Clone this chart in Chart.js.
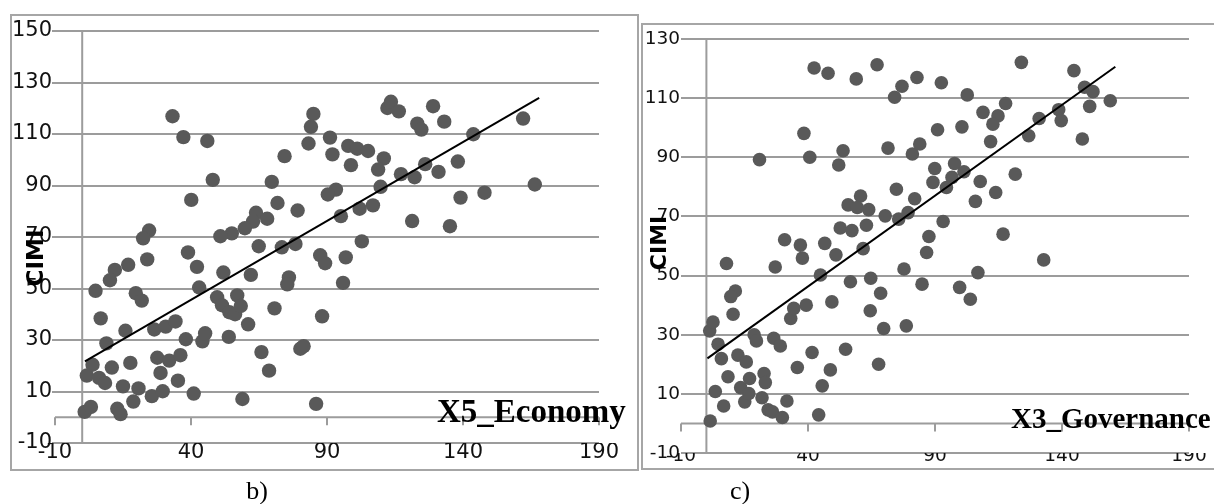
<!DOCTYPE html>
<html><head><meta charset="utf-8">
<script src="https://cdn.jsdelivr.net/npm/chart.js@4.4.0/dist/chart.umd.min.js"></script>
<style>
html,body{margin:0;padding:0;background:#fff;width:1214px;height:504px;overflow:hidden;position:relative}
.box{position:absolute;border:2px solid #a6a6a6;box-sizing:border-box}
#boxB{left:10px;top:14px;width:629px;height:457px}
#boxC{left:641px;top:23px;width:600px;height:447px}
canvas{position:absolute;top:0}
#cB{left:0;width:640px;height:504px}
#cC{left:640px;width:574px;height:504px}
</style></head>
<body>
<div class="box" id="boxB"></div>
<div class="box" id="boxC"></div>
<canvas id="cB" width="640" height="504"></canvas>
<canvas id="cC" width="574" height="504"></canvas>
<script>
// ---------- data: panel b) X5_Economy vs CIMI ----------
const econX = [33.2,37.2,46.0,48.0,40.1,85.0,84.1,83.2,74.4,69.7,71.8,79.2,63.9,62.8,68.0,59.8,55.0,50.8,24.6,22.4,
  64.9,73.4,78.4,38.9,42.2,51.9,62.0,76.0,75.4,43.0,23.9,16.9,12.0,10.2,4.9,19.7,21.9,6.8,15.9,8.9,
  26.5,30.7,34.3,38.1,44.2,45.2,53.9,65.9,68.7,80.2,81.4,3.8,1.7,6.2,8.4,10.9,17.7,15.0,20.7,18.8,
  25.6,29.6,27.6,32.0,36.1,28.8,35.2,41.0,58.9,0.9,3.2,12.9,14.1,86.0,88.2,87.5,89.3,96.9,95.9,70.7,
  61.0,49.6,51.4,54.1,56.2,57.0,58.3,112.2,113.5,116.4,129.0,133.1,123.2,124.7,162.1,143.8,91.1,92.0,97.8,101.1,
  105.1,110.9,98.8,108.8,117.2,122.2,126.1,131.0,138.1,109.7,93.3,90.3,139.1,147.9,166.4,106.9,102.0,95.1,121.3,135.2,102.8];
const econY = [116.9,108.8,107.3,92.2,84.4,117.8,112.8,106.3,101.4,91.4,83.2,80.3,79.4,76.0,77.1,73.4,71.4,70.3,72.5,69.5,
  66.4,66.0,67.3,64.0,58.4,56.2,55.3,54.3,51.6,50.4,61.3,59.2,57.2,53.2,49.1,48.2,45.3,38.4,33.6,28.7,
  34.1,35.2,37.2,30.3,29.5,32.6,31.2,25.3,18.1,26.6,27.6,20.4,16.2,15.3,13.3,19.3,21.1,12.0,11.2,6.1,
  8.2,10.1,23.1,22.0,24.1,17.2,14.2,9.2,7.1,2.1,4.0,3.3,1.2,5.2,39.2,62.9,59.8,62.1,52.2,42.3,
  36.1,46.6,43.5,40.8,40.0,47.3,43.2,120.1,122.5,118.8,120.8,114.8,114.0,111.7,116.0,109.9,108.6,102.1,105.4,104.3,
  103.4,100.5,97.9,96.2,94.4,93.2,98.3,95.3,99.3,89.5,88.4,86.5,85.3,87.2,90.4,82.3,81.0,78.1,76.2,74.2,68.3];
const econTrendX = [1, 168];
const econTrendY = [21.7, 124];
const xTicksB = [-10, 40, 90, 140, 190];
const yTicksB = [-10, 10, 30, 50, 70, 90, 110, 130, 150];

// ---------- data: panel c) X3_Governance vs CIMI ----------
const govX = [42.4,47.9,59.0,67.2,74.1,77.0,82.9,92.5,38.4,40.7,20.9,52.1,53.8,71.5,81.1,84.0,91.0,89.9,89.2,74.8,
  82.0,60.7,55.8,59.4,63.9,70.4,75.7,79.4,93.2,63.0,52.7,57.3,87.6,86.7,46.6,37.0,30.8,37.8,51.0,61.7,
  77.8,44.9,64.7,56.7,84.9,27.1,7.9,11.4,9.6,10.5,1.3,2.6,4.6,5.9,12.4,15.7,8.5,3.5,6.8,1.5,
  13.5,17.0,15.1,16.7,22.7,23.2,21.9,24.3,26.0,29.9,31.7,18.8,19.7,26.5,29.1,33.2,34.4,39.3,49.4,41.6,
  35.8,48.8,45.6,44.2,54.8,64.5,68.6,69.8,78.7,67.8,102.7,124.0,144.7,148.9,152.2,159.0,150.9,138.7,139.7,131.0,
  126.9,117.8,114.8,112.8,108.9,100.6,111.9,148.0,97.7,101.4,96.7,94.5,107.8,105.9,113.9,121.6,116.8,132.8,106.9,99.7,103.9];
const govY = [120.2,118.4,116.5,121.3,110.3,114.0,117.0,115.2,98.1,90.0,89.2,87.4,92.2,93.1,91.1,94.5,99.3,86.2,81.5,79.2,
  76.0,76.9,73.9,73.0,72.3,70.2,69.1,71.3,68.3,67.0,66.1,65.2,63.2,57.8,60.9,60.3,62.1,55.9,57.0,59.1,
  52.2,50.2,49.1,47.9,47.1,52.9,54.1,44.8,42.9,36.9,31.3,34.3,26.8,21.9,23.1,20.8,15.8,10.8,5.9,0.8,
  12.1,15.2,7.3,10.1,16.9,13.8,8.7,4.6,3.9,2.0,7.6,30.0,27.9,28.8,26.2,35.5,38.9,40.0,41.1,24.0,
  18.9,18.1,12.7,2.9,25.1,38.1,44.0,32.1,33.0,20.0,111.1,122.1,119.3,113.7,112.2,109.1,107.2,106.1,102.4,103.1,
  97.3,108.2,104.0,101.2,105.2,100.3,95.3,96.2,87.9,85.1,83.2,79.8,81.8,75.1,78.1,84.3,64.0,55.3,51.0,46.0,42.0];
const govTrendX = [0.4, 161];
const govTrendY = [22, 120.6];
const xTicksC = [-10, 40, 90, 140, 190];
const yTicksC = [-10, 10, 30, 50, 70, 90, 110, 130];

const yTitle = 'CIMI';
const xTitleB = 'X5_Economy';
const xTitleC = 'X3_Governance';
const captionB = 'b)';
const captionC = 'c)';

// ---------- plugins ----------
const crossAxes = {
  id: 'crossAxes',
  beforeDatasetsDraw(chart, args, o) {
    const {ctx, scales: {x, y}} = chart;
    const x0 = x.getPixelForValue(0), y0 = y.getPixelForValue(0);
    ctx.save();
    ctx.strokeStyle = o.color; ctx.lineWidth = o.width;
    ctx.beginPath();
    ctx.moveTo(x0, y.getPixelForValue(y.max)); ctx.lineTo(x0, y.getPixelForValue(y.min));
    ctx.moveTo(x.getPixelForValue(x.min), y0); ctx.lineTo(x.getPixelForValue(x.max), y0);
    x.ticks.forEach(t => { const px = x.getPixelForValue(t.value); ctx.moveTo(px, y0); ctx.lineTo(px, y0 + o.tick); });
    ctx.stroke();
    ctx.restore();
  }
};
const texts = {
  id: 'texts',
  afterDraw(chart, args, o) {
    const ctx = chart.ctx;
    ctx.save();
    ctx.fillStyle = '#000';
    ctx.save();
    ctx.translate(o.yt.x, o.yt.y); ctx.rotate(-Math.PI / 2);
    ctx.font = 'bold ' + o.yt.size + 'px "DejaVu Sans"';
    ctx.textAlign = 'center'; ctx.textBaseline = 'middle';
    ctx.fillText(o.yt.text, 0, 0);
    ctx.restore();
    ctx.font = 'bold ' + o.xt.size + 'px "Liberation Serif"';
    ctx.textAlign = 'left'; ctx.textBaseline = 'alphabetic';
    ctx.fillText(o.xt.text, o.xt.x, o.xt.y);
    ctx.font = o.cap.size + 'px "Liberation Serif"';
    ctx.textAlign = 'center';
    ctx.fillText(o.cap.text, o.cap.x, o.cap.y);
    ctx.restore();
  }
};

function pts(xs, ys) { return xs.map((v, i) => ({x: v, y: ys[i]})); }

function build(id, p) {
  return new Chart(document.getElementById(id), {
    type: 'scatter',
    data: {
      datasets: [
        {type: 'line', data: pts(p.tx, p.ty), borderColor: '#000', borderWidth: 2, pointRadius: 0, fill: false, order: 0},
        {data: pts(p.xs, p.ys), backgroundColor: '#595959', borderWidth: 0, pointRadius: p.r, order: 1}
      ]
    },
    options: {
      responsive: false, animation: false,
      layout: {padding: p.pad},
      plugins: {
        legend: {display: false}, tooltip: {enabled: false},
        crossAxes: {color: '#9c9c9c', width: 2, tick: 8},
        texts: p.texts
      },
      scales: {
        x: {
          type: 'linear', min: p.xt[0], max: p.xt[p.xt.length - 1],
          afterBuildTicks: s => { s.ticks = p.xt.map(v => ({value: v})); },
          afterFit: s => { s.height = p.xh; },
          grid: {display: false, drawTicks: false},
          border: {display: false},
          ticks: {font: {family: 'DejaVu Sans', size: p.fs}, color: '#111', padding: p.xpad, maxRotation: 0}
        },
        y: {
          type: 'linear', min: p.yt[0], max: p.yt[p.yt.length - 1],
          afterBuildTicks: s => { s.ticks = p.yt.map(v => ({value: v})); },
          afterFit: s => { s.width = p.yw; },
          grid: {color: '#9c9c9c', lineWidth: 2, drawTicks: p.tl > 0, tickLength: p.tl},
          border: {display: false},
          ticks: {font: {family: 'DejaVu Sans', size: p.fs}, color: '#111', padding: p.ypad}
        }
      }
    },
    plugins: [crossAxes, texts]
  });
}

build('cB', {
  xs: econX, ys: econY, tx: econTrendX, ty: econTrendY, xt: xTicksB, yt: yTicksB,
  r: 7.2, fs: 21, xh: 30, yw: 55, tl: 3, xpad: -3, ypad: 0,
  pad: {top: 31, right: 41, bottom: 31, left: 0},
  texts: {
    yt: {text: yTitle, x: 37, y: 258, size: 23},
    xt: {text: xTitleB, x: 437, y: 422, size: 33},
    cap: {text: captionB, x: 257, y: 499, size: 26}
  }
});
build('cC', {
  xs: govX, ys: govY, tx: govTrendX, ty: govTrendY, xt: xTicksC, yt: yTicksC,
  r: 6.8, fs: 18.5, xh: 25, yw: 41, tl: 0, xpad: -8, ypad: 1,
  pad: {top: 39, right: 25, bottom: 26, left: 0},
  texts: {
    yt: {text: yTitle, x: 20, y: 243, size: 22},
    xt: {text: xTitleC, x: 371, y: 428, size: 29},
    cap: {text: captionC, x: 100, y: 499, size: 26}
  }
});
</script>
</body></html>
